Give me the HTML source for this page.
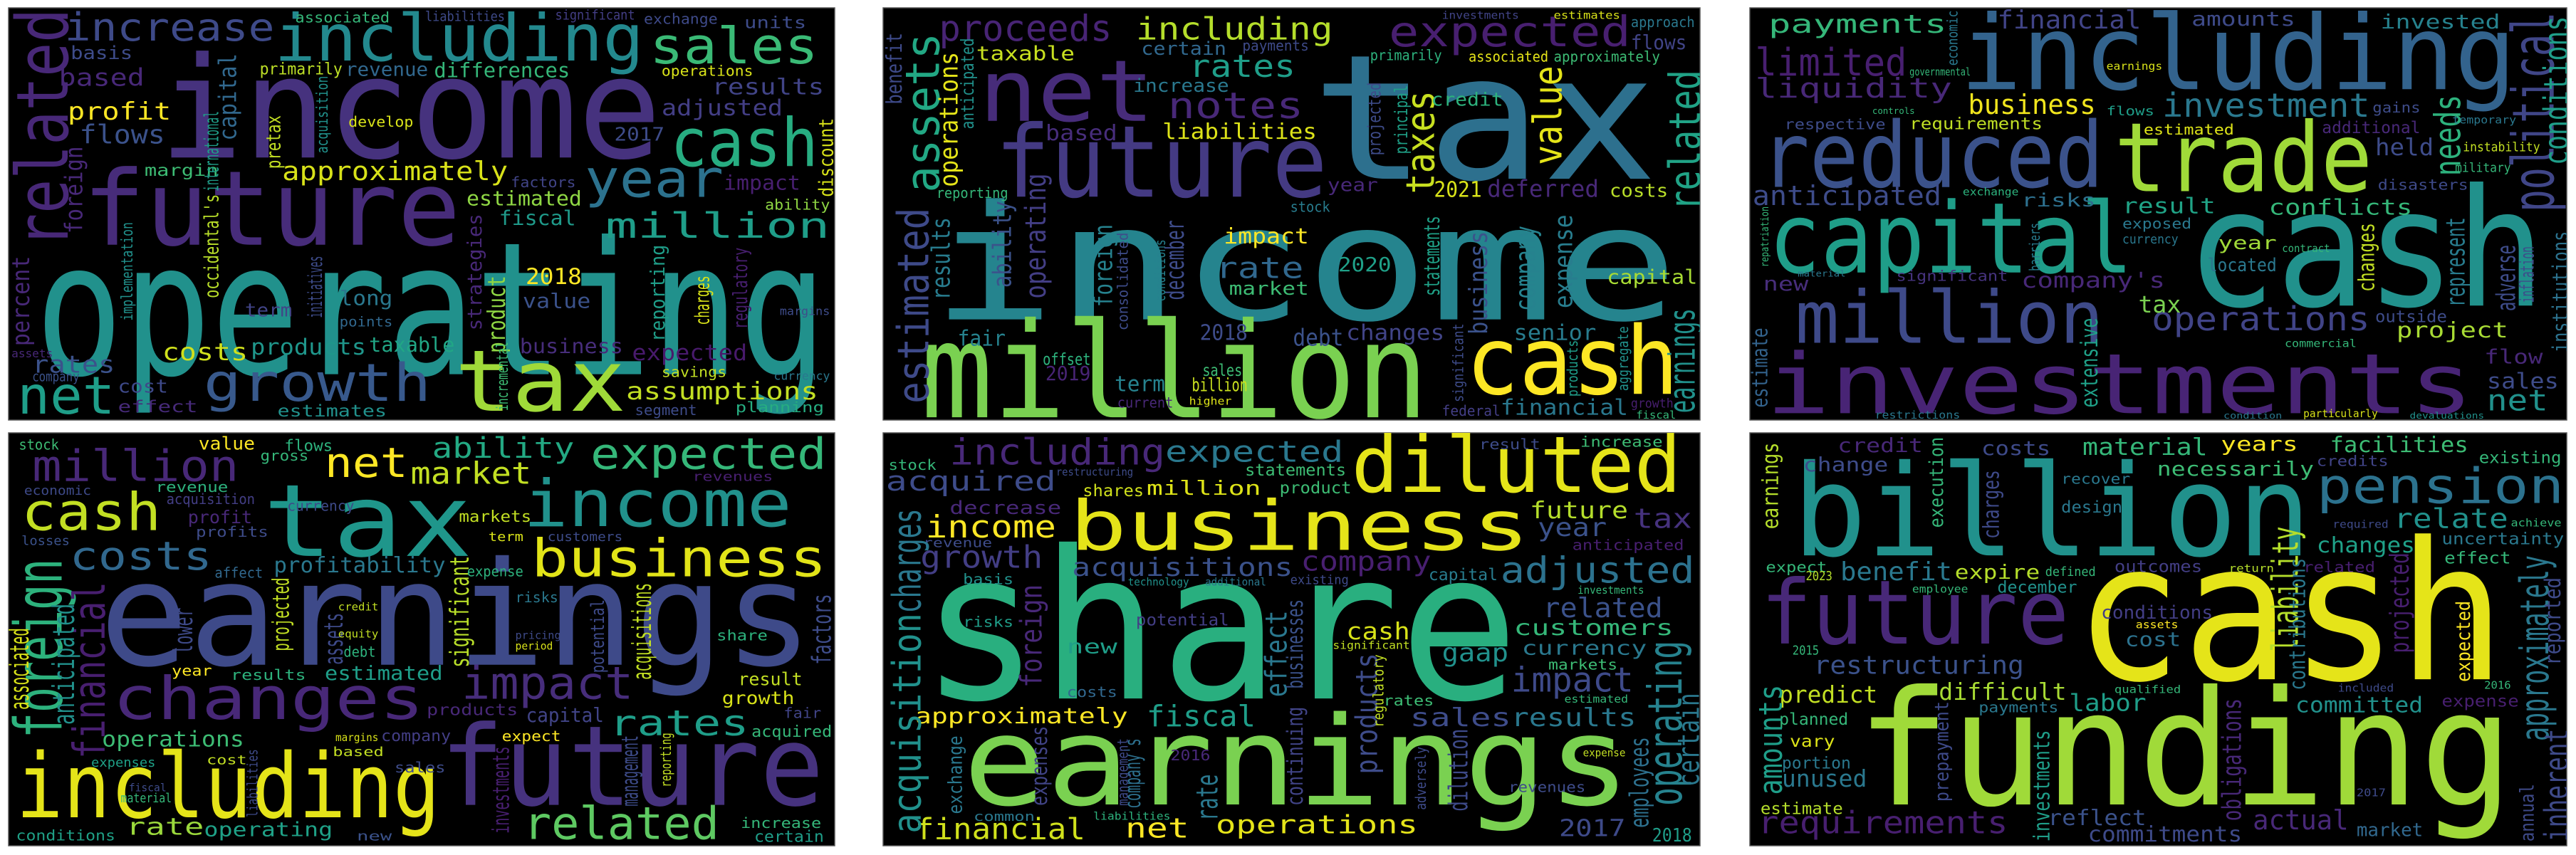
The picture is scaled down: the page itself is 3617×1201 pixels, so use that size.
<!DOCTYPE html>
<html><head><meta charset="utf-8"><title>Word clouds</title>
<style>
html,body{margin:0;padding:0;background:#fff;}
svg{display:block;}
text{font-family:"DejaVu Sans Mono","Liberation Mono",monospace;}
</style></head>
<body>
<svg id="root" width="3617" height="1201" viewBox="0 0 3617 1201" xmlns="http://www.w3.org/2000/svg"></svg>
<script>
// Panel frames: [px, py, pw, ph, zx0, zy0, zx1, zy1]
const panelFrames = [
  [12,11,1160,579, 15,28,1413,1493],
  [1240,11,1147,579, 15,30,1550,1525],
  [2457,11,1147,579, 15,30,1550,1525],
  [12,608,1160,580, 16,28,1555,1545],
  [1240,608,1147,580, 15,45,1550,1545],
  [2457,608,1147,580, 15,45,1550,1545]
];
// Words: horizontal [text,x1,x2,top,base,color]; vertical [text,xLeft,xRight,yBottom,yTop,color,'v']
const words1 = [
 ["operating",60,1400,830,1330,"#21918c"],["income",270,1120,180,560,"#46327e"],["future",140,780,590,870,"#472c7a"],
 ["tax",770,1060,1230,1460,"#a0da39"],["growth",345,730,1285,1425,"#38598c"],["including",465,1090,40,215,"#23898e"],
 ["sales",1100,1385,90,225,"#3aba76"],["cash",1135,1385,410,590,"#27ad81"],["year",990,1225,560,700,"#2c728e"],
 ["million",1025,1405,750,845,"#1f9e89"],["related",25,115,880,30,"#482878","v"],["increase",110,465,40,145,"#3e4a89"],
 ["profit",115,290,360,425,"#fde725"],["approximately",478,860,570,640,"#d8e219"],["assumptions",1060,1385,1355,1420,"#c2df23"],
 ["net",30,195,1330,1470,"#1f9e89"],["costs",275,420,1215,1280,"#d0e11c"],["products",425,620,1200,1260,"#1f968b"],
 ["taxable",625,770,1195,1250,"#21a685"],["rates",55,195,1260,1325,"#3b528b"],["flows",135,280,440,510,"#3b528b"],
 ["based",100,245,240,305,"#482878"],["basis",120,225,160,210,"#3e4c8a"],["differences",735,965,220,275,"#35b779"],
 ["revenue",585,725,218,270,"#31688e"],["primarily",440,580,220,265,"#bddf26"],["results",1205,1395,275,335,"#414487"],
 ["adjusted",1120,1325,350,410,"#433e85"],["estimated",790,985,675,730,"#8fd744"],["fiscal",845,975,745,800,"#1f9a8a"],
 ["impact",1225,1355,620,675,"#481f70"],["business",880,1055,1200,1255,"#472d7b"],["expected",1070,1265,1220,1280,"#481a6c"],
 ["2018",890,985,950,1010,"#fde725"],["value",885,1000,1040,1095,"#3b528b"],["long",575,665,1030,1085,"#2a788e"],
 ["estimates",470,655,1435,1480,"#21918c"],["effect",200,335,1420,1465,"#472a7a"],["cost",200,285,1345,1395,"#3e4989"],
 ["margin",245,370,580,625,"#3dbc74"],["planning",1245,1395,1425,1465,"#26ad81"],["operations",1120,1275,230,270,"#d8e219"],
 ["foreign",110,140,830,520,"#482878","v"],["percent",20,50,1230,910,"#482878","v"],["occidental's",345,370,1060,690,"#b8de29","v"],
 ["strategies",790,815,1175,760,"#482878","v"],["product",825,855,1255,980,"#8fd744","v"],["discount",1385,1410,700,420,"#d8e219","v"],
 ["capital",370,400,500,190,"#31688e","v"],["term",415,495,1075,1125,"#414487"],["points",575,665,1125,1160,"#31688e"],
 ["savings",1120,1230,1300,1340,"#c2df23"],["segment",1075,1180,1435,1475,"#3e4c8a"],["currency",1310,1405,1320,1350,"#2a788e"],
 ["ability",1295,1405,705,745,"#8fd744"],["factors",865,975,625,665,"#414487"],["2017",1040,1125,450,500,"#3e4c8a"],
 ["develop",590,700,410,450,"#d8e219"],["exchange",1090,1215,45,85,"#3e4a89"],["units",1260,1365,55,100,"#3e4c8a"],
 ["associated",500,660,40,80,"#35b779"],["liabilities",720,855,40,75,"#3e4a89"],["significant",940,1075,35,70,"#433e85"],
 ["margins",1320,1405,1090,1120,"#3e4c8a"],["assets",20,90,1240,1270,"#482878"],["company",55,135,1320,1355,"#3b528b"],
 ["international",345,370,680,395,"#1f9e89","v"],["implementation",205,225,1140,790,"#21918c","v"],["pretax",450,475,600,410,"#c2df23","v"],
 ["acquisition",535,555,545,270,"#21918c","v"],["reporting",1100,1125,1215,870,"#1f9e89","v"],["charges",1175,1200,1155,980,"#d8e219","v"],
 ["regulatory",1240,1265,1170,880,"#481f70","v"],["incremental",840,860,1460,1215,"#3dbc74","v"],["initiatives",520,545,1130,910,"#3e4c8a","v"]
];
const words2 = [
 ["tax",820,1470,170,650,"#2d708e"],["income",105,1510,720,1160,"#25848e"],["million",85,1040,1150,1515,"#7ad151"],
 ["net",195,525,205,440,"#472c7a"],["future",225,850,440,715,"#443a83"],["cash",1110,1510,1170,1430,"#fde725"],
 ["expected",965,1420,55,170,"#481f70"],["proceeds",120,445,50,150,"#482475"],["including",490,860,60,145,"#b5de2b"],
 ["notes",550,805,330,430,"#482878"],["rates",590,790,195,280,"#1f9e89"],["assets",55,120,700,120,"#22a884","v"],
 ["estimated",40,100,1465,755,"#3e4a89","v"],["taxes",995,1050,705,330,"#c8e020","v"],["value",1235,1290,600,240,"#e5e419","v"],
 ["related",1490,1550,765,255,"#20a386","v"],["earnings",1490,1540,1500,1120,"#21918c","v"],["liabilities",540,830,445,505,"#dde318"],
 ["taxable",190,375,165,220,"#c8e020"],["deferred",1150,1360,650,715,"#482878"],["2021",1050,1140,655,715,"#d8e219"],
 ["costs",1380,1490,665,715,"#b8de29"],["impact",655,815,825,885,"#fde725"],["rate",640,805,930,1010,"#31688e"],
 ["2020",870,970,930,985,"#1fa088"],["capital",1375,1545,975,1030,"#a8db34"],["market",665,815,1020,1070,"#3dbc74"],
 ["changes",885,1070,1175,1235,"#414487"],["senior",1200,1355,1175,1235,"#287c8e"],["financial",1175,1415,1445,1505,"#2a788e"],
 ["fair",155,245,1195,1255,"#26828e"],["2018",610,700,1175,1235,"#3e4c8a"],["debt",785,880,1190,1255,"#3b528b"],
 ["credit",1045,1180,335,385,"#2db27d"],["year",850,945,645,695,"#482878"],["based",320,455,450,510,"#472d7b"],
 ["certain",500,660,150,200,"#31688e"],["increase",485,665,285,335,"#2a788e"],["operations",120,155,680,190,"#e5e419","v"],
 ["operating",280,320,1085,630,"#433e85","v"],["results",105,140,1090,790,"#287c8e","v"],["ability",220,255,1045,730,"#3b528b","v"],
 ["foreign",410,445,1115,815,"#26828e","v"],["december",545,580,1090,800,"#3e4c8a","v"],["business",1115,1150,1215,840,"#3b528b","v"],
 ["company",1200,1240,1130,820,"#26828e","v"],["expense",1275,1310,1120,780,"#287d8e","v"],["statements",1030,1060,1075,785,"#1fa187","v"],
 ["term",450,545,1360,1420,"#26828e"],["billion",595,700,1370,1420,"#cae11f"],["offset",315,405,1280,1325,"#2db27d"],
 ["2019",320,405,1325,1380,"#482475"],["sales",615,690,1320,1365,"#3dbc74"],["stock",780,855,730,770,"#287c8e"],
 ["payments",690,815,145,185,"#3e4a89"],["primarily",930,1065,180,220,"#2db27d"],["associated",1115,1265,185,225,"#e5e419"],
 ["approximately",1275,1475,185,225,"#3dbc74"],["flows",1420,1525,125,180,"#414487"],["approach",1420,1540,60,100,"#2a788e"],
 ["estimates",1275,1400,40,70,"#d8e219"],["investments",1065,1210,40,70,"#414487"],["reporting",115,250,680,720,"#35b779"],
 ["growth",1420,1500,1445,1480,"#481f70"],["fiscal",1430,1505,1490,1520,"#35b779"],
 ["federal",1065,1175,1470,1510,"#433e85"],["current",455,560,1440,1480,"#482878"],["higher",590,670,1440,1470,"#dde318"],
 ["anticipated",160,185,470,140,"#21918c","v"],["benefit",20,50,380,120,"#3e4a89","v"],["projected",925,950,565,300,"#3e4c8a","v"],
 ["principal",975,1000,560,310,"#1fa187","v"],["consolidated",455,475,1200,845,"#3e4c8a","v"],["aggregate",1395,1415,1420,1185,"#21918c","v"],
 ["significant",1085,1105,1460,1175,"#3e4c8a","v"],["products",1300,1320,1440,1235,"#1f9e89","v"],["conditions",525,545,1095,870,"#26828e","v"]
];
const words3 = [
 ["including",410,1455,40,325,"#33638d"],["cash",835,1510,660,1110,"#21918c"],["investments",45,1375,1270,1500,"#482475"],
 ["capital",50,735,720,990,"#1f9e89"],["reduced",35,680,430,680,"#3b528b"],["trade",700,1185,430,695,"#a0da39"],
 ["million",100,680,1045,1245,"#3e4a89"],["payments",50,385,50,120,"#35b779"],["limited",25,310,170,275,"#481f70"],
 ["liquidity",25,395,280,355,"#482878"],["financial",480,750,35,105,"#414487"],["amounts",845,1040,40,95,"#3e4a89"],
 ["invested",1200,1425,50,105,"#26828e"],["investment",790,1180,335,425,"#2a788e"],["business",425,665,340,415,"#f1e51d"],
 ["requirements",315,565,425,470,"#c0df25"],["anticipated",20,375,670,745,"#3e4c8a"],["risks",525,665,700,750,"#2d708e"],
 ["result",715,890,715,775,"#20a386"],["conflicts",990,1260,720,780,"#35b779"],["operations",770,1180,1110,1200,"#414487"],
 ["project",1230,1440,1165,1225,"#a8db34"],["company's",525,795,985,1045,"#482878"],["significant",290,500,980,1020,"#46337e"],
 ["tax",745,825,1070,1135,"#7ad151"],["year",895,1005,855,905,"#a0da39"],["located",875,1005,935,985,"#2a788e"],
 ["new",40,125,1000,1055,"#472d7b"],["political",1445,1525,770,45,"#404688","v"],["conditions",1505,1552,600,60,"#1f9e89","v"],
 ["needs",1300,1350,640,345,"#2db27d","v"],["net",1400,1515,1410,1490,"#21918c"],["sales",1400,1535,1350,1410,"#3e4c8a"],
 ["flow",1395,1505,1265,1320,"#482878"],["held",1190,1300,500,565,"#3e4c8a"],["disasters",1195,1365,650,690,"#3e4a89"],
 ["additional",1090,1275,440,485,"#482878"],["estimated",755,925,450,490,"#dde318"],["extensive",635,668,1480,1155,"#1fa188","v"],
 ["institutions",1522,1552,1280,840,"#2c728e","v"],["inflation",1462,1488,1100,895,"#3e4c8a","v"],["represent",1322,1358,1115,790,"#287c8e","v"],
 ["changes",1157,1188,1060,810,"#c2df23","v"],["adverse",1417,1453,1130,890,"#3e4c8a","v"],["estimate",18,48,1480,1190,"#33638d","v"],
 ["flows",685,775,385,420,"#1f9e89"],["gains",1185,1275,370,410,"#3e4c8a"],["temporary",1335,1455,420,450,"#2a788e"],
 ["instability",1355,1500,515,550,"#c2df23"],["military",1340,1445,590,625,"#35b779"],["respective",80,270,430,470,"#3e4c8a"],
 ["exposed",715,845,790,830,"#2a788e"],["currency",715,820,850,885,"#2a788e"],["exchange",415,520,680,710,"#2db27d"],
 ["outside",1190,1325,1125,1170,"#3e4c8a"],["restrictions",250,410,1490,1520,"#2a788e"],
 ["particularly",1055,1195,1485,1515,"#d8e219"],["devaluations",1255,1395,1495,1520,"#21918c"],["condition",905,1015,1495,1520,"#2a788e"],
 ["economic",385,405,240,40,"#2a788e","v"],["barriers",540,560,985,810,"#287c8e","v"],["repatriation",35,50,970,750,"#35b779","v"],
 ["governmental",315,430,245,275,"#35b779"],["earnings",685,790,225,255,"#d8e219"],["controls",245,325,390,415,"#35b779"],
 ["contract",1015,1105,885,915,"#35b779"],["commercial",1020,1155,1230,1260,"#35b779"],["material",105,195,980,1005,"#2a788e"]
];
const words4 = [
 ["earnings",185,1515,477,880,"#3e4a89"],["tax",490,880,200,480,"#1f968b"],["income",975,1475,189,370,"#21918c"],
 ["business",990,1540,410,555,"#e2e418"],["changes",210,790,915,1080,"#482878"],["future",820,1535,1085,1395,"#46327e"],
 ["including",30,820,1190,1440,"#e5e419"],["related",975,1340,1395,1520,"#5ec962"],["rates",1135,1395,1040,1140,"#1f9e89"],
 ["impact",860,1180,880,1005,"#472d7b"],["cash",40,300,240,385,"#c2df23"],["million",60,445,85,205,"#482878"],
 ["costs",130,395,420,530,"#31688e"],["net",605,760,75,190,"#fde725"],["expected",1100,1540,40,160,"#35b779"],
 ["ability",805,1070,40,120,"#23a983"],["market",765,990,130,215,"#c2df23"],["operations",190,455,1120,1180,"#3dbc74"],
 ["rate",235,380,1440,1505,"#9bd93c"],["operating",380,620,1455,1510,"#1fa187"],["foreign",25,115,1150,490,"#2db27d","v"],
 ["financial",135,195,1225,575,"#481f70","v"],["profitability",510,830,480,540,"#2a788e"],["estimated",605,825,880,935,"#1f9e89"],
 ["results",430,570,895,935,"#2db27d"],["growth",1345,1480,975,1025,"#d8e219"],["result",1375,1495,905,955,"#c2df23"],
 ["acquired",1400,1550,1100,1145,"#35b779"],["capital",980,1125,1035,1090,"#414487"],["products",795,965,1020,1065,"#482878"],
 ["expect",935,1045,1120,1160,"#fde725"],["cost",385,460,1210,1245,"#c2df23"],["conditions",30,215,1485,1525,"#1fa187"],
 ["new",665,730,1490,1525,"#3b528b"],["anticipated",97,138,1100,655,"#21918c","v"],["significant",837,873,890,480,"#b8de29","v"],
 ["acquisitions",1177,1213,935,580,"#c2df23","v"],["associated",17,53,1045,745,"#d8e219","v"],["investments",917,948,1500,1180,"#481f70","v"],
 ["stock",35,110,50,90,"#3dbc74"],["value",370,475,40,90,"#fde725"],["flows",530,620,50,95,"#2db27d"],["gross",485,575,90,130,"#35b779"],
 ["revenue",290,425,205,245,"#2db27d"],["acquisition",310,475,250,290,"#433e85"],["profit",350,470,310,360,"#482878"],
 ["profits",365,500,370,410,"#3e4c8a"],["losses",40,130,405,440,"#3b528b"],["economic",45,170,220,255,"#3e4a89"],
 ["currency",535,660,275,315,"#3e4a89"],["markets",855,990,310,355,"#c2df23"],["customers",1020,1160,390,425,"#3e4c8a"],
 ["term",910,975,390,425,"#d8e219"],["affect",400,490,520,560,"#31688e"],["share",1335,1430,750,790,"#2db27d"],
 ["fair",1460,1530,1035,1075,"#414487"],["increase",1380,1530,1440,1480,"#35b779"],["certain",1405,1535,1485,1530,"#1f9e89"],
 ["based",620,715,1180,1215,"#c2df23"],["company",710,840,1115,1160,"#433e85"],["expenses",170,290,1220,1255,"#1fa187"],
 ["year",320,395,880,920,"#fde725"],["debt",640,700,810,850,"#2db27d"],["revenues",1290,1440,170,205,"#481f70"],
 ["expense",870,975,515,555,"#2db27d"],["factors",1512,1548,880,620,"#3e4c8a","v"],["lower",322,358,840,670,"#3e4a89","v"],
 ["assets",602,638,880,690,"#3e4a89","v"],["projected",507,538,830,560,"#c2df23","v"],["management",1157,1188,1400,1140,"#3e4c8a","v"],
 ["reporting",1230,1250,1330,1130,"#c2df23","v"],["potential",1100,1125,910,640,"#3e4a89","v"],["liabilities",460,480,1440,1190,"#3e4a89","v"],
 ["credit",630,705,650,680,"#c2df23"],["equity",630,705,750,780,"#c2df23"],["risks",960,1040,610,650,"#2a788e"],
 ["period",960,1030,795,825,"#d8e219"],["pricing",960,1045,755,785,"#3e4a89"],["margins",625,705,1130,1160,"#d8e219"],
 ["sales",735,830,1235,1275,"#3e4c8a"],["fiscal",240,310,1315,1345,"#3e4c8a"],["material",225,320,1350,1385,"#35b779"]
];
const words5 = [
 ["share",85,1210,440,1010,"#29af7f"],["earnings",165,1420,1055,1395,"#7ad151"],["business",365,1230,280,470,"#e5e419"],
 ["diluted",895,1515,45,260,"#e5e419"],["income",95,340,340,425,"#fde725"],["including",140,545,60,160,"#482878"],
 ["expected",545,880,70,150,"#2a788e"],["acquired",20,340,180,255,"#3e4c8a"],["growth",85,315,450,535,"#433e85"],
 ["acquisitions",370,785,495,565,"#3b528b"],["company",800,1045,470,545,"#481f70"],["adjusted",1175,1540,490,590,"#2c728e"],
 ["related",1255,1480,640,715,"#3b528b"],["customers",1200,1500,720,780,"#35b779"],["currency",1215,1450,795,850,"#2a788e"],
 ["impact",1195,1425,890,985,"#3e4a89"],["sales",1005,1195,1040,1110,"#3e4c8a"],["results",1195,1430,1040,1110,"#2a788e"],
 ["fiscal",510,715,1030,1110,"#1f9e89"],["approximately",75,475,1040,1100,"#fde725"],["financial",75,395,1440,1520,"#d0e11c"],
 ["net",470,590,1440,1515,"#fde725"],["operations",640,1020,1430,1500,"#e5e419"],["2017",1285,1410,1445,1510,"#3e4a89"],
 ["cash",885,1005,730,795,"#d8e219"],["gaap",1065,1190,805,875,"#21918c"],["new",360,455,790,845,"#1f9e89"],
 ["million",510,725,215,270,"#dde318"],["statements",695,885,155,200,"#3dbc74"],["product",760,895,220,265,"#3dbc74"],
 ["shares",390,505,230,275,"#d0e11c"],["future",1230,1415,290,355,"#b5de2b"],["year",1245,1375,350,420,"#3b528b"],
 ["tax",1425,1535,315,390,"#46327e"],["decrease",140,350,290,340,"#482878"],["revenue",90,220,425,460,"#3e4c8a"],
 ["stock",25,115,140,180,"#35b779"],["result",1135,1250,65,105,"#3e4c8a"],["increase",1325,1480,55,95,"#3dbc74"],
 ["anticipated",1310,1520,430,470,"#481f70"],["capital",1040,1170,535,580,"#287c8e"],["potential",490,665,700,745,"#433e85"],
 ["risks",165,260,710,750,"#1f9e89"],["costs",360,455,965,1005,"#31688e"],["rates",955,1050,995,1035,"#3dbc74"],
 ["common",185,300,1420,1455,"#2a788e"],["2016",555,630,1195,1235,"#482878"],["2018",1460,1535,1480,1530,"#1f9e89"],
 ["acquisition",30,85,1500,700,"#21918c","v"],["charges",30,85,700,320,"#2a788e","v"],["operating",1450,1515,1400,800,"#26828e","v"],
 ["certain",1507,1548,1330,990,"#2a788e","v"],["foreign",272,313,970,595,"#482878","v"],["effect",732,773,1005,690,"#2a788e","v"],
 ["products",902,943,1285,845,"#3e4c8a","v"],["rate",602,643,1455,1285,"#2a788e","v"],["dilution",1077,1113,1420,1120,"#3e4a89","v"],
 ["employees",1417,1453,1480,1150,"#2d708e","v"],["businesses",772,803,975,650,"#3b528b","v"],["continuing",772,803,1400,1040,"#414487","v"],
 ["exchange",137,163,1430,1145,"#2a788e","v"],["expenses",292,323,1400,1110,"#414487","v"],["company's",467,498,1410,1155,"#2d708e","v"],
 ["revenues",1190,1335,1310,1350,"#3e4c8a"],["markets",1265,1395,865,905,"#3dbc74"],["estimated",1295,1415,995,1025,"#35b779"],
 ["liabilities",410,555,1420,1450,"#2db27d"],["significant",860,1005,800,830,"#c2df23"],["basis",165,260,555,595,"#21918c"],
 ["restructuring",340,485,170,200,"#3e4c8a"],["technology",475,590,570,600,"#21918c"],["additional",620,735,570,600,"#2a788e"],
 ["existing",780,890,560,595,"#3e4a89"],["investments",1320,1445,600,630,"#35b779"],["expense",1330,1410,1190,1220,"#c2df23"],
 ["regulatory",935,955,1115,850,"#c2df23","v"],["management",455,475,1400,1155,"#3e4a89","v"],["adversely",1015,1035,1415,1185,"#3e4a89","v"]
];
const words6 = [
 ["cash",625,1435,410,940,"#e5e419"],["funding",215,1450,955,1395,"#a0da39"],["billion",95,1070,140,490,"#21918c"],
 ["future",35,615,565,810,"#482878"],["pension",1080,1545,165,300,"#2c728e"],["requirements",30,500,1415,1500,"#481f70"],
 ["restructuring",135,530,850,920,"#3b528b"],["benefit",185,395,510,580,"#2a788e"],["expire",400,560,520,575,"#b5de2b"],
 ["predict",70,255,960,1025,"#c2df23"],["difficult",370,610,950,1015,"#a8db34"],["labor",615,760,990,1055,"#1f9e89"],
 ["committed",1040,1280,1000,1060,"#21918c"],["changes",1080,1265,420,480,"#1fa188"],["relate",1225,1440,315,390,"#21918c"],
 ["uncertainty",1315,1545,405,450,"#2a788e"],["effect",1320,1445,475,520,"#35b779"],["material",640,875,60,125,"#35b779"],
 ["years",900,1045,55,110,"#fde725"],["facilities",1105,1365,55,115,"#3dbc74"],["necessarily",780,1075,145,200,"#3dbc74"],
 ["costs",450,580,70,125,"#3e4a89"],["credit",180,340,60,115,"#482878"],["change",115,275,130,185,"#3e4c8a"],
 ["conditions",675,885,670,720,"#433e85"],["outcomes",700,865,505,550,"#433e85"],["cost",720,825,765,820,"#2c728e"],
 ["actual",960,1140,1410,1485,"#482878"],["commitments",650,940,1470,1530,"#3e4a89"],["reflect",575,760,1410,1470,"#3b528b"],
 ["market",1155,1280,1460,1510,"#31688e"],["unused",75,235,1265,1330,"#2a788e"],["portion",75,205,1220,1265,"#2a788e"],
 ["vary",90,175,1140,1185,"#dde318"],["planned",70,200,1060,1105,"#35b779"],["estimate",35,190,1385,1430,"#b5de2b"],
 ["payments",445,595,1020,1060,"#2a788e"],["december",480,630,580,625,"#21918c"],["expense",1315,1460,995,1040,"#481f70"],
 ["existing",1385,1540,110,155,"#35b779"],["credits",1080,1215,125,165,"#414487"],["recover",600,730,190,230,"#2a788e"],
 ["design",600,715,290,335,"#2a788e"],["expect",45,160,510,550,"#35b779"],["related",1055,1190,510,550,"#481f70"],
 ["liability",995,1045,840,385,"#b5de2b","v"],["contributions",1027,1058,980,500,"#2a788e","v"],["projected",1217,1253,845,480,"#481f70","v"],
 ["approximately",1460,1515,1165,490,"#2a788e","v"],["reported",1507,1538,890,570,"#3e4a89","v"],["expected",1342,1368,950,655,"#fde725","v"],
 ["inherent",1507,1553,1530,1120,"#3e4a89","v"],["annual",1462,1488,1530,1320,"#3e4a89","v"],["amounts",30,75,1360,960,"#1f9e89","v"],
 ["execution",352,378,390,60,"#35b779","v"],["charges",452,483,430,180,"#3e4a89","v"],["earnings",37,68,395,80,"#b5de2b","v"],
 ["obligations",902,938,1455,1010,"#482878","v"],["investments",547,578,1530,1125,"#1f9e89","v"],["prepayment",362,388,1385,1020,"#3e4a89","v"],
 ["2015",95,145,815,850,"#35b779"],["2023",120,170,545,580,"#b5de2b"],["employee",320,425,595,625,"#35b779"],
 ["defined",570,665,530,565,"#35b779"],["return",915,1000,520,550,"#b5de2b"],["required",1110,1215,360,390,"#3e4a89"],
 ["achieve",1445,1540,355,385,"#35b779"],["qualified",700,825,960,990,"#35b779"],["included",1120,1225,955,985,"#3e4a89"],
 ["2017",1155,1210,1335,1365,"#3e4a89"],["2016",1395,1445,945,975,"#35b779"],["assets",740,820,725,755,"#fde725"]
];
const allWords = [words1, words2, words3, words4, words5, words6];

const NS = "http://www.w3.org/2000/svg";
const root = document.getElementById("root");
function mapX(f, zx){ return f[0] + (zx - f[4]) * f[2] / (f[6] - f[4]); }
function mapY(f, zy){ return f[1] + (zy - f[5]) * f[3] / (f[7] - f[5]); }

allWords.forEach(function(list, pi){
  const f = panelFrames[pi];
  const g = document.createElementNS(NS, "g");
  
  
  const bg = document.createElementNS(NS, "rect");
  bg.setAttribute("x", f[0]); bg.setAttribute("y", f[1]);
  bg.setAttribute("width", f[2]); bg.setAttribute("height", f[3]);
  bg.setAttribute("fill", "#000"); bg.setAttribute("stroke", "#555"); bg.setAttribute("stroke-width", "1.5");
  
  
  g.appendChild(bg);
  const clipId = "clip" + pi;
  const cp = document.createElementNS(NS, "clipPath"); cp.setAttribute("id", clipId);
  const cr = document.createElementNS(NS, "rect");
  cr.setAttribute("x", f[0]); cr.setAttribute("y", f[1]); cr.setAttribute("width", f[2]); cr.setAttribute("height", f[3]);
  cp.appendChild(cr); g.appendChild(cp);
  const tg = document.createElementNS(NS, "g"); tg.setAttribute("clip-path", "url(#" + clipId + ")");
  g.appendChild(tg);
  list.forEach(function(w){
    const t = document.createElementNS(NS, "text");
    t.textContent = w[0];
    t.setAttribute("fill", w[5]);
    t.setAttribute("lengthAdjust", "spacingAndGlyphs");
    if (w[6] === "v") {
      const xl = mapX(f, w[1]), xr = mapX(f, w[2]);
      const yb = mapY(f, w[3]), yt = mapY(f, w[4]);
      const fs = Math.max(6, (xr - xl) / 0.74);
      const bx = xl + fs * 0.74;
      t.setAttribute("x", bx); t.setAttribute("y", yb);
      t.setAttribute("font-size", fs.toFixed(1));
      t.setAttribute("textLength", Math.max(4, yb - yt).toFixed(1));
      t.setAttribute("transform", "rotate(-90 " + bx.toFixed(1) + " " + yb.toFixed(1) + ")");
    } else {
      const x1 = mapX(f, w[1]), x2 = mapX(f, w[2]);
      const top = mapY(f, w[3]), base = mapY(f, w[4]);
      const fs = Math.max(6, (base - top) / 0.76);
      t.setAttribute("x", x1); t.setAttribute("y", base);
      t.setAttribute("font-size", fs.toFixed(1));
      t.setAttribute("textLength", Math.max(4, x2 - x1).toFixed(1));
    }
    
    
    tg.appendChild(t);
  });
  root.appendChild(g);
});
</script>
</body></html>
